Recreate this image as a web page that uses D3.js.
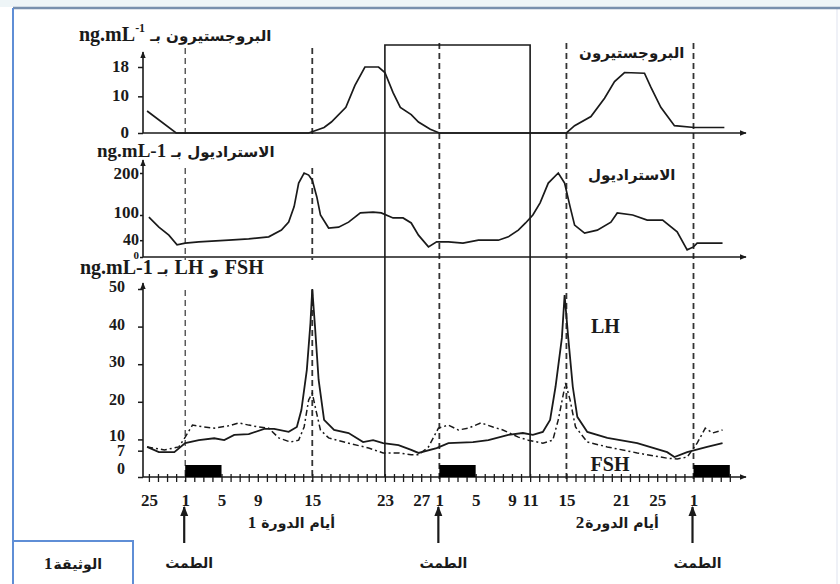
<!DOCTYPE html>
<html><head><meta charset="utf-8">
<script src="https://cdn.jsdelivr.net/npm/d3@7"></script>
<style>html,body{margin:0;padding:0;background:#fff;}</style>
</head><body><svg id="c" width="840" height="584"></svg>
<script>
// ---------- DATA (t = days counted from day 1 of cycle 1) ----------
const dayTicks = d3.range(-4, 61);
const dayLabels = [[-4,"25"],[0,"1"],[4,"5"],[8,"9"],[14,"15"],[22,"23"],[26,"27"],[28,"1"],[32,"5"],[36,"9"],[38,"11"],[42,"15"],[48,"21"],[52,"25"],[56,"1"]];
const mensesStarts = [0, 28, 56];
const windowDays = [22, 38];

const progTicks = [0, 10, 18];
const estrTicks = [0, 40, 100, 200];
const gonaTicks = [0, 7, 10, 20, 30, 40, 50];

const progesterone = [[-4.2,6],[-1,0],[13.6,0],[15.3,1.5],[16.1,3],[17.7,7],[18.7,13],[19.8,18],[21.3,18],[22,16.5],[22.9,11],[23.7,7],[24.9,5],[25.7,3],[27,1],[28,0],[42,0],[42.9,2],[44.7,4.5],[46.2,9.5],[47.3,14],[48.4,16.5],[50.6,16.3],[51.3,12.5],[52.4,7],[53.9,2],[56.1,1.5],[59.4,1.5]];

const estradiol = [[-4,95],[-2.9,71],[-1.8,52],[-0.9,29],[0,33],[1.5,36],[4.8,40],[7,43],[9.2,48],[10.6,64],[11.4,83],[12,120],[12.5,176],[13.1,200],[13.6,195],[14,183],[14.5,143],[14.9,100],[15.8,69],[16.9,71],[18,83],[19.3,105],[20.7,107],[21.6,105],[22.9,93],[24,93],[24.9,81],[25.7,52],[26.8,24],[27.7,36],[29,36],[30.6,33],[32.3,40],[34.5,40],[35.6,48],[36.7,64],[37.5,81],[38.3,100],[39.1,129],[40,176],[41.1,200],[41.8,176],[42.4,120],[42.9,76],[44,57],[45.4,64],[46.9,83],[47.6,105],[49.3,100],[50.9,88],[52.6,88],[54.2,60],[55.3,17],[56,24],[56.4,33],[59.2,33]];

const lh = [[-4.2,8],[-2.9,6.6],[-1.2,6.6],[0,9],[1.5,9.8],[3.2,10.3],[4.3,9.8],[5.4,11.2],[7,11.4],[8.7,12.8],[9.8,12.8],[11.4,12],[12.3,13.3],[12.8,17.8],[13.4,28.5],[13.8,41],[14,50],[14.3,40],[14.7,25.8],[15.3,15.2],[16.4,12.5],[18,11.7],[19.6,9.3],[20.7,9.8],[21.8,9],[23.5,8.5],[24.9,7.2],[25.7,6.4],[27.7,7.7],[29,9],[31.7,9.3],[33.4,9.8],[35.6,11.2],[37.2,11.7],[38.3,11.2],[39.4,12],[40.2,15.2],[40.8,24],[41.5,37],[41.8,48.4],[42.2,37],[42.7,24],[43.2,16],[44.3,12],[46.5,10.4],[49.8,9],[53.1,6.6],[53.9,5.3],[55.3,6.6],[57.5,8],[59.2,9]];

const fsh = [[-4.2,8],[-2.3,7.2],[-0.7,8],[0,10.6],[0.8,13.8],[2.1,13.3],[3.2,13],[4.8,13.6],[5.9,14.4],[7,13.8],[8.1,13.3],[9.2,13],[10.3,10.4],[11.6,9.3],[12.5,9.8],[13.1,13.3],[13.6,20.5],[14,22.3],[14.4,17.8],[14.9,12.5],[15.8,10.4],[18,9],[20.2,7.7],[21.8,6.4],[23.5,6.4],[24.9,5.9],[25.7,5.9],[26.8,8],[27.9,13],[29,13.8],[30.1,12.5],[31.2,13],[32.6,14.4],[33.9,13.3],[35,12.5],[36.7,10.6],[37.8,9.8],[39.4,9],[40.5,9.8],[41.1,15.2],[41.6,21.3],[41.9,25],[42.4,20.5],[43,13.3],[44.3,9.3],[46.5,8],[49.8,6.4],[53.1,5],[54.2,4.8],[55.3,5.3],[56.4,9],[57.3,13],[58.1,11.7],[59.2,12.5]];

// ---------- SCALES ----------
const svg = d3.select("#c");
const x = d3.scaleLinear().domain([-4, 56]).range([148.9, 693.5]);
const yP = d3.scaleLinear().domain([0, 18]).range([133, 67]);
const yE = d3.scaleLinear().domain([0, 200]).range([257, 173]);
const yG = d3.scaleLinear().domain([0, 50]).range([477, 289]);
const axisX0 = 143, axisX1 = 746;
const SERIF = "'Liberation Serif','Times New Roman',serif";
const AR = "'DejaVu Sans',sans-serif";
const INK = "#1a1a1a";

// frame
svg.append("rect").attr("x",0).attr("y",0).attr("width",840).attr("height",7).attr("fill","#eef5f7");
svg.append("line").attr("x1",837).attr("x2",837).attr("y1",8).attr("y2",584).attr("stroke","#e4e8f2").attr("stroke-width",1.2);
svg.append("line").attr("x1",13).attr("x2",840).attr("y1",8).attr("y2",8).attr("stroke","#7890ad").attr("stroke-width",2.5);
svg.append("line").attr("x1",13).attr("x2",13).attr("y1",8).attr("y2",584).attr("stroke","#5f8ed6").attr("stroke-width",2);

// arrow markers
const defs = svg.append("defs");
defs.append("marker").attr("id","arr").attr("viewBox","0 0 10 10").attr("refX",9).attr("refY",5)
  .attr("markerWidth",7).attr("markerHeight",7).attr("markerUnits","userSpaceOnUse").attr("orient","auto")
  .append("path").attr("d","M0,1 L10,5 L0,9 z").attr("fill",INK);
defs.append("marker").attr("id","arrB").attr("viewBox","0 0 10 10").attr("refX",9).attr("refY",5)
  .attr("markerWidth",10).attr("markerHeight",10).attr("markerUnits","userSpaceOnUse").attr("orient","auto")
  .append("path").attr("d","M0,1 L10,5 L0,9 z").attr("fill",INK);

// text pieces helper: items given in visual left-to-right order; each centred on its own slot
function pieces(x0, y0, items, anchor) {
  const g = svg.append("g");
  let cx = 0;
  items.forEach(it => {
    const t = g.append("text").attr("y", y0 + (it.dy || 0)).attr("text-anchor","middle")
      .attr("font-family", it.f || SERIF).attr("font-size", it.s || 16)
      .attr("font-weight", "bold").attr("fill", INK).text(it.t);
    const w = t.node().getComputedTextLength();
    t.attr("x", cx + w / 2);
    cx += w + (it.gap || 0);
  });
  const off = anchor === "middle" ? x0 - cx / 2 : anchor === "end" ? x0 - cx : x0;
  g.attr("transform", `translate(${off},0)`);
  return g;
}

// vertical dashed guides
const segsFor = d => (d <= 14 ? [[48,138],[168,260],[290,482]] : [[43,482]]);
[0,14,28,42,56].forEach(d => {
  segsFor(d).forEach(s => {
    svg.append("line").attr("x1",x(d)).attr("x2",x(d)).attr("y1",s[0]).attr("y2",s[1])
      .attr("stroke","#333").attr("stroke-width", d===0?1.2:1.8).attr("stroke-dasharray","6,4");
  });
});

// window rectangle
svg.append("path")
  .attr("d", `M${x(windowDays[0])},${yG(0)} V45 H${x(windowDays[1])} V${yG(0)}`)
  .attr("fill","none").attr("stroke",INK).attr("stroke-width",1.6);

// axes
function yAxis(scale, ticks, pad, size, topY, fsFn, dyFn) {
  const g = svg.append("g").attr("transform",`translate(${axisX0},0)`)
    .call(d3.axisLeft(scale).tickValues(ticks).tickSize(size).tickPadding(pad).tickFormat(d3.format("d")));
  g.select(".domain").remove();
  g.selectAll(".tick line").attr("stroke",INK).attr("stroke-width",1.5);
  g.selectAll(".tick text").attr("font-family",SERIF).attr("font-size",fsFn).attr("font-weight","bold").attr("fill",INK)
    .attr("dy", dyFn);
  svg.append("line").attr("x1",axisX0).attr("x2",axisX0).attr("y1",scale(0)).attr("y2",topY)
    .attr("stroke",INK).attr("stroke-width",1.6).attr("marker-end","url(#arr)");
  svg.append("line").attr("x1",axisX0).attr("x2",axisX1).attr("y1",scale(0)).attr("y2",scale(0))
    .attr("stroke",INK).attr("stroke-width",1.6).attr("marker-end","url(#arr)");
  return g;
}
yAxis(yP, progTicks, 9, 5, 52, () => 17, () => "0.25em");
yAxis(yE, estrTicks, 1, 3, 160, d => d === 0 ? 11 : d === 40 ? 16 : 17, d => d === 0 ? "0.1em" : d === 40 ? "0.25em" : d === 200 ? "0.3em" : "0.15em");
yAxis(yG, gonaTicks, 13, 5, 283, () => 16, d => d === 0 ? "-0.2em" : d === 7 ? "0.3em" : d === 10 ? "0.05em" : "0.15em");

// bottom day ticks + labels
const lab = new Map(dayLabels);
const xa = svg.append("g").attr("transform",`translate(0,${yG(0)})`)
  .call(d3.axisBottom(x).tickValues(dayTicks).tickSize(5).tickPadding(12).tickFormat(d => lab.get(d) || ""));
xa.select(".domain").remove();
xa.selectAll(".tick line").attr("stroke",INK).attr("stroke-width",1.3).attr("y1",-3);
xa.selectAll(".tick text").attr("font-family",SERIF).attr("font-size",17).attr("font-weight","bold").attr("fill",INK);

// menses bars
mensesStarts.forEach(d => {
  svg.append("rect").attr("x",x(d)).attr("y",yG(0)-12).attr("width",x(d+4)-x(d)).attr("height",12).attr("fill","#000");
});

// curves
const lineOf = (ys) => d3.line().x(d => x(d[0])).y(d => ys(d[1]));
svg.append("path").datum(progesterone).attr("d",lineOf(yP)).attr("fill","none").attr("stroke",INK).attr("stroke-width",1.7);
svg.append("path").datum(estradiol).attr("d",lineOf(yE)).attr("fill","none").attr("stroke",INK).attr("stroke-width",1.7);
svg.append("path").datum(fsh).attr("d",lineOf(yG)).attr("fill","none").attr("stroke",INK).attr("stroke-width",1.5).attr("stroke-dasharray","6,3,2,3");
svg.append("path").datum(lh).attr("d",lineOf(yG)).attr("fill","none").attr("stroke",INK).attr("stroke-width",1.8);

// axis titles (visual order left to right)
pieces(79, 41, [{t:"ng.mL",s:20},{t:"-1",s:12,dy:-9,gap:5},{t:"البروجستيرون بـ",f:AR,s:15}], "start");
pieces(97, 157, [{t:"ng.mL-1",s:19,gap:5},{t:"الاستراديول بـ",f:AR,s:15}], "start");
pieces(80, 274, [{t:"ng.mL-1",s:20,gap:5},{t:"بـ",f:AR,s:15,gap:6},{t:"LH",s:20,gap:6},{t:"و",f:AR,s:15,gap:6},{t:"FSH",s:20}], "start");

// series labels
pieces(x(49.2), 58, [{t:"البروجستيرون",f:AR,s:15}], "middle");
pieces(x(49.2), 180, [{t:"الاستراديول",f:AR,s:15}], "middle");
pieces(x(46.3), 333, [{t:"LH",s:20}], "middle");
pieces(x(46.8), 471, [{t:"FSH",s:20}], "middle");

// menses arrows + labels
mensesStarts.forEach(d => {
  svg.append("line").attr("x1",x(d)-1).attr("x2",x(d)-1).attr("y1",543).attr("y2",507)
    .attr("stroke",INK).attr("stroke-width",2.2).attr("marker-end","url(#arrB)");
  pieces(x(d)+4, 568, [{t:"الطمث",f:AR,s:14}], "middle");
});

// cycle labels
pieces(x(11.7), 528, [{t:"1",s:17,gap:5},{t:"أيام الدورة",f:AR,s:14}], "middle");
pieces(x(47.6), 528, [{t:"2",s:17,gap:1},{t:"أيام الدورة",f:AR,s:14}], "middle");

// document box
svg.append("rect").attr("x",13).attr("y",541).attr("width",120).attr("height",50)
  .attr("fill","#fff").attr("stroke","#5f8ed6").attr("stroke-width",2);
pieces(73, 569, [{t:"1",s:17,gap:1},{t:"الوثيقة",f:AR,s:14}], "middle");
</script></body></html>
